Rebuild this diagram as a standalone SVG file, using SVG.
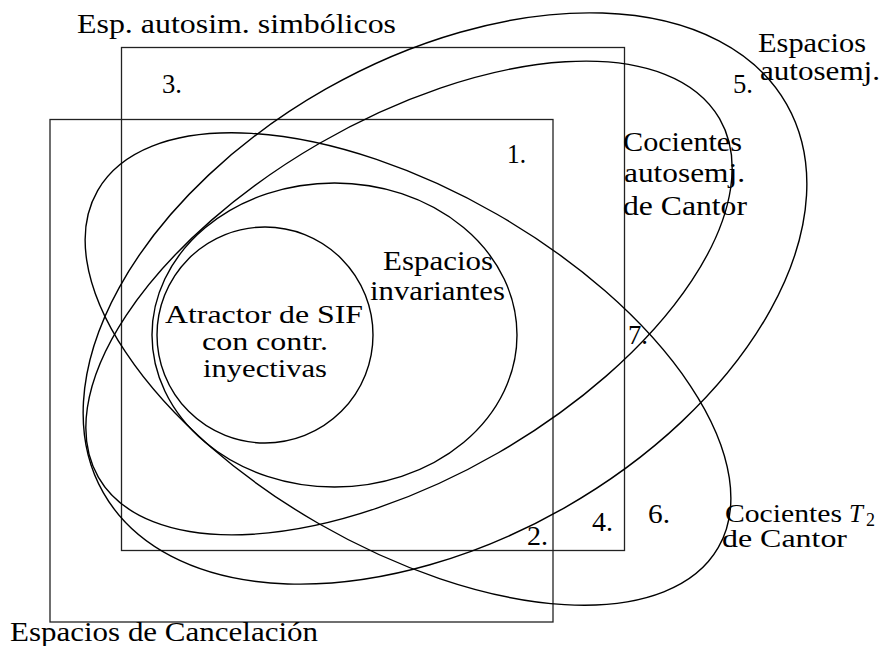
<svg xmlns="http://www.w3.org/2000/svg" width="886" height="646" viewBox="0 0 886 646">
<style>
.s{fill:none;stroke:#000;stroke-width:1.4}
.r{fill:none;stroke:#222;stroke-width:1.3}
text{font-family:"Liberation Serif","DejaVu Serif",serif;font-size:28px;fill:#000}
.sm{font-size:25px}
.it{font-style:italic}
.sub{font-size:18px}
</style>
<rect width="886" height="646" fill="#fff"/>
<g id="esp-autosim-simbolicos">
<rect class="r" x="121.5" y="47.5" width="503" height="503"/>
<text x="77" y="33" textLength="319" lengthAdjust="spacingAndGlyphs">Esp. autosim. simbólicos</text>
</g>
<g id="espacios-cancelacion">
<rect class="r" x="50" y="119.5" width="503" height="502.5"/>
<text x="10" y="641" textLength="308" lengthAdjust="spacingAndGlyphs">Espacios de Cancelación</text>
</g>
<g id="atractor-sif">
<circle class="s" cx="265" cy="335" r="108"/>
<text class="sm" x="165" y="323" textLength="198" lengthAdjust="spacingAndGlyphs">Atractor de SIF</text>
<text class="sm" x="202" y="350" textLength="126" lengthAdjust="spacingAndGlyphs">con contr.</text>
<text class="sm" x="203" y="377" textLength="124" lengthAdjust="spacingAndGlyphs">inyectivas</text>
</g>
<g id="espacios-invariantes">
<ellipse class="s" cx="334.5" cy="335" rx="182.5" ry="152"/>
<text x="383" y="270" textLength="110" lengthAdjust="spacingAndGlyphs">Espacios</text>
<text x="370" y="300" textLength="135" lengthAdjust="spacingAndGlyphs">invariantes</text>
</g>
<g id="cocientes-autosemj-cantor">
<ellipse class="s" cx="409" cy="298" rx="358.6" ry="178.7" transform="rotate(-30 409 298)"/>
<text x="623" y="151" textLength="119" lengthAdjust="spacingAndGlyphs">Cocientes</text>
<text x="624" y="182" textLength="121" lengthAdjust="spacingAndGlyphs">autosemj.</text>
<text x="623" y="215" textLength="124" lengthAdjust="spacingAndGlyphs">de Cantor</text>
</g>
<g id="espacios-autosemj">
<ellipse class="s" cx="445" cy="298.5" rx="393" ry="241" transform="rotate(-29.6 445 298.5)"/>
<text x="758" y="52" textLength="108" lengthAdjust="spacingAndGlyphs">Espacios</text>
<text x="760" y="80" textLength="120" lengthAdjust="spacingAndGlyphs">autosemj.</text>
</g>
<g id="cocientes-t2-cantor">
<ellipse class="s" cx="408" cy="369" rx="358" ry="178.5" transform="rotate(29.9 408 369)"/>
<text class="sm" x="725" y="522" textLength="117" lengthAdjust="spacingAndGlyphs">Cocientes</text>
<text x="849" y="522" class="it sm">T</text>
<text x="866" y="526" class="sub">2</text>
<text class="sm" x="722" y="547" textLength="125" lengthAdjust="spacingAndGlyphs">de Cantor</text>
</g>
<g id="region-numbers">
<text x="162" y="93" textLength="20" lengthAdjust="spacingAndGlyphs">3.</text>
<text x="507" y="163" textLength="19" lengthAdjust="spacingAndGlyphs">1.</text>
<text x="733" y="93" textLength="20" lengthAdjust="spacingAndGlyphs">5.</text>
<text x="628" y="344" textLength="20" lengthAdjust="spacingAndGlyphs">7.</text>
<text x="527" y="545" textLength="21" lengthAdjust="spacingAndGlyphs">2.</text>
<text x="592" y="531" textLength="21" lengthAdjust="spacingAndGlyphs">4.</text>
<text x="648" y="523" textLength="22" lengthAdjust="spacingAndGlyphs">6.</text>
</g>
<g id="connectors"/>
</svg>
